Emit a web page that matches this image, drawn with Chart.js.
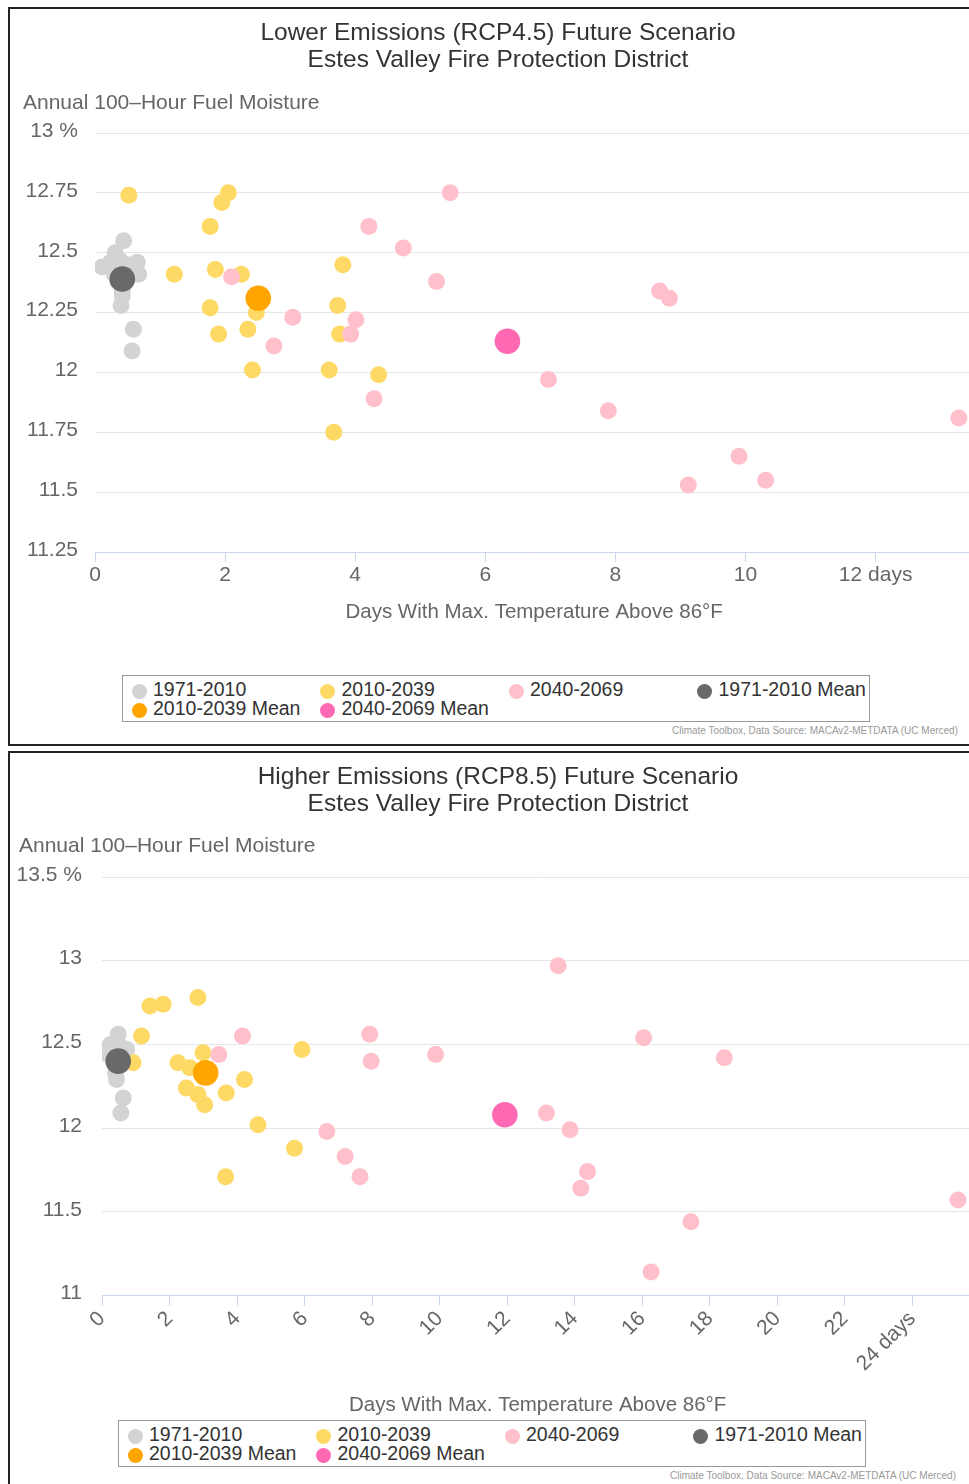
<!DOCTYPE html>
<html>
<head>
<meta charset="utf-8">
<script src="https://cdn.jsdelivr.net/npm/chart.js@4.4.1/dist/chart.umd.min.js"></script>
<style>
  body { margin: 0; background: #fff; width: 969px; height: 1484px; overflow: hidden; position: relative;
         font-family: "Liberation Sans", Arial, sans-serif; }
  .box { position: absolute; left: 8px; width: 1000px; border: 2px solid #222; }
  #box1 { top: 7px; height: 735px; }
  #box2 { top: 751px; height: 760px; }
  .box canvas { position: absolute; left: 0; top: 0; }
  .legend { position: absolute; width: 746px; height: 45px; border: 1px solid #999; background: #fff; }
  .item { position: absolute; font-size: 19.5px; color: #333; white-space: nowrap; line-height: 20px; }
  .dot { position: absolute; width: 15px; height: 15px; border-radius: 50%; }
  .credits { position: absolute; font-size: 10px; line-height: 13px; color: #999; white-space: nowrap; }
</style>
</head>
<body>
<div class="box" id="box1">
  <canvas id="chart45" width="976" height="665"></canvas>
  <div class="legend" id="legend45" style="left:112px; top:666px;"></div>
  <div class="credits" style="left:662px; top:715px;">Climate Toolbox, Data Source: MACAv2-METDATA (UC Merced)</div>
</div>
<div class="box" id="box2">
  <canvas id="chart85" width="976" height="700"></canvas>
  <div class="legend" id="legend85" style="left:108px; top:667px;"></div>
  <div class="credits" style="left:660px; top:716px;">Climate Toolbox, Data Source: MACAv2-METDATA (UC Merced)</div>
</div>

<script>
const FONT = '"Liberation Sans", Arial, sans-serif';

// --- Data: RCP4.5 (days above 86F, 100-hour fuel moisture %) ---
const hist45 = [[0.44, 12.55], [0.31, 12.50], [0.11, 12.44], [0.24, 12.46], [0.65, 12.46], [0.67, 12.41],
  [0.30, 12.41], [0.42, 12.34], [0.42, 12.32], [0.40, 12.28], [0.59, 12.18], [0.57, 12.09],
  [0.50, 12.45], [0.38, 12.47], [0.35, 12.38], [0.48, 12.42]];
const mid45 = [[0.52, 12.74], [2.05, 12.75], [1.95, 12.71], [1.77, 12.61], [1.22, 12.41], [1.85, 12.43],
  [2.25, 12.41], [1.77, 12.27], [2.48, 12.25], [1.90, 12.16], [2.35, 12.18], [2.42, 12.01],
  [3.81, 12.45], [3.73, 12.28], [3.76, 12.16], [3.60, 12.01], [4.36, 11.99], [3.67, 11.75]];
const late45 = [[5.46, 12.75], [4.21, 12.61], [4.74, 12.52], [5.25, 12.38], [3.04, 12.23], [4.01, 12.22],
  [3.93, 12.16], [4.29, 11.89], [2.10, 12.40], [2.75, 12.11], [8.68, 12.34], [8.83, 12.31],
  [6.97, 11.97], [7.89, 11.84], [13.28, 11.81], [9.90, 11.65], [10.31, 11.55], [9.12, 11.53]];
const histMean45 = [[0.42, 12.39]];
const midMean45 = [[2.51, 12.31]];
const lateMean45 = [[6.34, 12.13]];

const xTicks45 = [0, 2, 4, 6, 8, 10, 12];
const xLabels45 = ['0', '2', '4', '6', '8', '10', '12 days'];
const yTicks45 = [11.25, 11.5, 11.75, 12, 12.25, 12.5, 12.75, 13];
const yLabels45 = ['11.25', '11.5', '11.75', '12', '12.25', '12.5', '12.75', '13 %'];

// --- Data: RCP8.5 ---
const hist85 = [[0.48, 12.56], [0.04, 12.45], [0.73, 12.47], [0.25, 12.50], [0.60, 12.48], [0.43, 12.29],
  [0.63, 12.18], [0.56, 12.09], [0.45, 12.38], [0.40, 12.33], [0.30, 12.42], [0.55, 12.40]];
const mid85 = [[1.17, 12.55], [0.92, 12.39], [2.25, 12.39], [2.60, 12.36], [2.99, 12.45], [4.22, 12.29],
  [2.50, 12.24], [2.84, 12.20], [3.04, 12.14], [3.68, 12.21], [4.62, 12.02], [5.70, 11.88],
  [3.66, 11.71], [5.92, 12.47], [1.42, 12.73], [1.81, 12.74], [2.84, 12.78]];
const late85 = [[4.16, 12.55], [3.46, 12.44], [13.51, 12.97], [7.93, 12.56], [7.97, 12.40], [9.88, 12.44],
  [13.16, 12.09], [13.86, 11.99], [14.38, 11.74], [14.18, 11.64], [6.66, 11.98], [7.20, 11.83],
  [7.64, 11.71], [16.04, 12.54], [18.43, 12.42], [25.35, 11.57], [17.44, 11.44], [16.26, 11.14]];
const histMean85 = [[0.48, 12.40]];
const midMean85 = [[3.07, 12.33]];
const lateMean85 = [[11.93, 12.08]];

const xTicks85 = [0, 2, 4, 6, 8, 10, 12, 14, 16, 18, 20, 22, 24];
const xLabels85 = ['0', '2', '4', '6', '8', '10', '12', '14', '16', '18', '20', '22', '24 days'];
const yTicks85 = [11, 11.5, 12, 12.5, 13, 13.5];
const yLabels85 = ['11', '11.5', '12', '12.5', '13', '13.5 %'];

const seriesNames = ['1971-2010', '2010-2039', '2040-2069', '1971-2010 Mean', '2010-2039 Mean', '2040-2069 Mean'];

// styles
const seriesColors = ['#d3d3d3', '#ffd966', '#ffc0cb', '#696969', '#ffa500', '#ff69b4'];
const seriesRadius = [8.5, 8.5, 8.5, 12.8, 12.8, 12.8];

const toPoints = arr => arr.map(p => ({ x: p[0], y: p[1] }));

// titles + horizontal y-axis title, drawn on canvas
const headings = {
  id: 'headings',
  afterDraw(chart, args, opts) {
    const ctx = chart.ctx;
    ctx.save();
    ctx.textBaseline = 'middle';
    ctx.textAlign = 'center';
    ctx.fillStyle = '#333';
    ctx.font = '24.5px ' + FONT;
    opts.lines.forEach((t, i) => ctx.fillText(t, chart.width / 2, opts.titleY + i * 27));
    ctx.textAlign = 'left';
    ctx.fillStyle = '#666';
    ctx.font = '21px ' + FONT;
    ctx.fillText(opts.yTitle, opts.yTitleX, opts.yTitleY);
    ctx.restore();
  }
};

function makeChart(id, o) {
  const datasets = o.series.map((s, i) => ({
    label: seriesNames[i],
    data: toPoints(s),
    backgroundColor: seriesColors[i],
    borderWidth: 0,
    pointRadius: seriesRadius[i],
    pointHoverRadius: seriesRadius[i],
    order: 6 - i
  }));

  return new Chart(document.getElementById(id), {
    type: 'scatter',
    data: { datasets },
    plugins: [headings],
    options: {
      responsive: false,
      animation: false,
      layout: { padding: { top: 124, right: 10, left: 0, bottom: 0 } },
      plugins: {
        legend: { display: false },
        tooltip: { enabled: false },
        headings: {
          lines: o.title, titleY: 24,
          yTitle: 'Annual 100\u2013Hour Fuel Moisture', yTitleX: o.yTitleX, yTitleY: o.yTitleY
        }
      },
      scales: {
        x: {
          type: 'linear', min: 0, max: o.xMax,
          afterBuildTicks: s => { s.ticks = o.xTicks.map(v => ({ value: v })); },
          afterFit: s => { s.height = o.xHeight; },
          grid: { drawOnChartArea: false, drawTicks: true, tickLength: 10, color: '#ccd6eb' },
          border: { color: '#ccd6eb', width: 1 },
          ticks: {
            callback: (v, i) => o.xLabels[i],
            autoSkip: false, minRotation: o.rot, maxRotation: o.rot,
            font: { size: 21, family: FONT }, color: '#666', padding: 1
          },
          title: {
            display: true, text: 'Days With Max. Temperature Above 86\u00b0F',
            font: { size: 20.5, family: FONT }, color: '#666',
            padding: { top: 0, bottom: o.xTitlePad }
          }
        },
        y: {
          min: o.yMin, max: o.yMax,
          afterBuildTicks: s => { s.ticks = o.yTicks.map(v => ({ value: v })); },
          afterFit: s => { s.width = o.yWidth; },
          grid: { color: '#e6e6e6', drawTicks: false },
          border: { display: false },
          ticks: {
            callback: (v, i) => o.yLabels[i],
            font: { size: 21, family: FONT }, color: '#666', padding: o.yPad, labelOffset: -2
          }
        }
      }
    }
  });
}

function buildLegend(id) {
  const box = document.getElementById(id);
  seriesNames.forEach((name, i) => {
    const col = i % 4, row = Math.floor(i / 4);
    const left = col * 188.5, cy = 13 + row * 19;
    const dot = document.createElement('div');
    dot.className = 'dot';
    dot.style.left = (left + 8.5) + 'px';
    dot.style.top = (cy - 7.5 + 2) + 'px';
    dot.style.background = seriesColors[i];
    box.appendChild(dot);
    const item = document.createElement('div');
    item.className = 'item';
    item.style.left = (left + 30) + 'px';
    item.style.top = (cy - 10) + 'px';
    item.textContent = name;
    box.appendChild(item);
  });
}

makeChart('chart45', {
  title: ['Lower Emissions (RCP4.5) Future Scenario', 'Estes Valley Fire Protection District'],
  series: [hist45, mid45, late45, histMean45, midMean45, lateMean45],
  xMax: 13.5, xTicks: xTicks45, xLabels: xLabels45, rot: 0, xHeight: 122, xTitlePad: 49,
  yMin: 11.25, yMax: 13, yTicks: yTicks45, yLabels: yLabels45, yWidth: 85, yPad: 17,
  yTitleX: 13, yTitleY: 94
});

makeChart('chart85', {
  title: ['Higher Emissions (RCP8.5) Future Scenario', 'Estes Valley Fire Protection District'],
  series: [hist85, mid85, late85, histMean85, midMean85, lateMean85],
  xMax: 25.8, xTicks: xTicks85, xLabels: xLabels85, rot: 45, xHeight: 157.5, xTitlePad: 35,
  yMin: 11, yMax: 13.5, yTicks: yTicks85, yLabels: yLabels85, yWidth: 92, yPad: 20,
  yTitleX: 9, yTitleY: 93
});

buildLegend('legend45');
buildLegend('legend85');
</script>
</body>
</html>
